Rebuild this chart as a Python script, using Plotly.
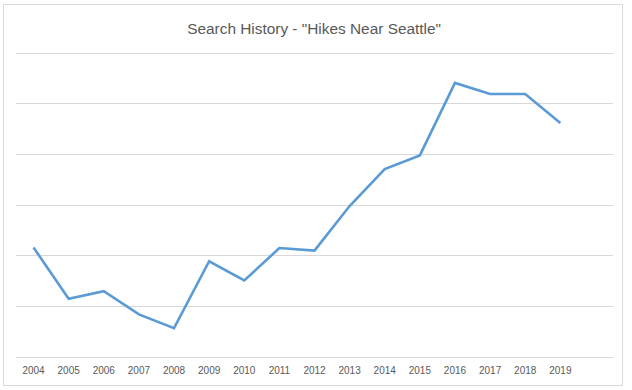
import plotly.graph_objects as go

years = [2004, 2005, 2006, 2007, 2008, 2009, 2010, 2011, 2012, 2013, 2014, 2015, 2016, 2017, 2018, 2019]
tick_labels = [str(y) for y in years]
searches = [21.6, 11.5, 13.0, 8.4, 5.7, 18.9, 15.1, 21.5, 21.0, 29.8, 37.1, 39.8, 54.1, 51.9, 51.9, 46.2]

fig = go.Figure()
fig.add_trace(go.Scatter(
    x=years, y=searches, mode="lines",
    line=dict(color="#5B9BD5", width=2.6),
    hoverinfo="x+y",
))

fig.update_layout(
    width=632, height=390,
    margin=dict(l=16, r=19, t=52, b=33),
    paper_bgcolor="white", plot_bgcolor="white",
    showlegend=False,
    title=dict(text='Search History - "Hikes Near Seattle"', x=0.497, xanchor="center",
               y=1 - 29 / 390, yanchor="middle",
               font=dict(family="Liberation Sans", size=15.4, color="#595959")),
    xaxis=dict(range=[2003.5, 2020.5], tickmode="array", tickvals=years, ticktext=tick_labels,
               showgrid=False, zeroline=False, showline=True, linecolor="#D9D9D9", linewidth=1,
               ticks="outside", ticklen=4, tickcolor="rgba(0,0,0,0)",
               tickfont=dict(family="Liberation Sans", size=10, color="#595959"),
               fixedrange=True),
    yaxis=dict(range=[0, 60.2], tickmode="array", tickvals=[10, 20, 30, 40, 50, 60],
               showticklabels=False, showgrid=True,
               gridcolor="#D9D9D9", gridwidth=1, zeroline=False, showline=False, ticks="",
               fixedrange=True),
    shapes=[dict(type="rect", xref="paper", yref="paper",
                 x0=(3.5 - 16) / 597, x1=(622.5 - 16) / 597,
                 y0=(357 - 385.5) / 305, y1=(357 - 4.5) / 305,
                 line=dict(color="#D9D9D9", width=1), fillcolor="rgba(0,0,0,0)", layer="below")],
)

fig.write_html("out.html", config={"displayModeBar": False},
               post_script="document.body.style.margin='0';")
